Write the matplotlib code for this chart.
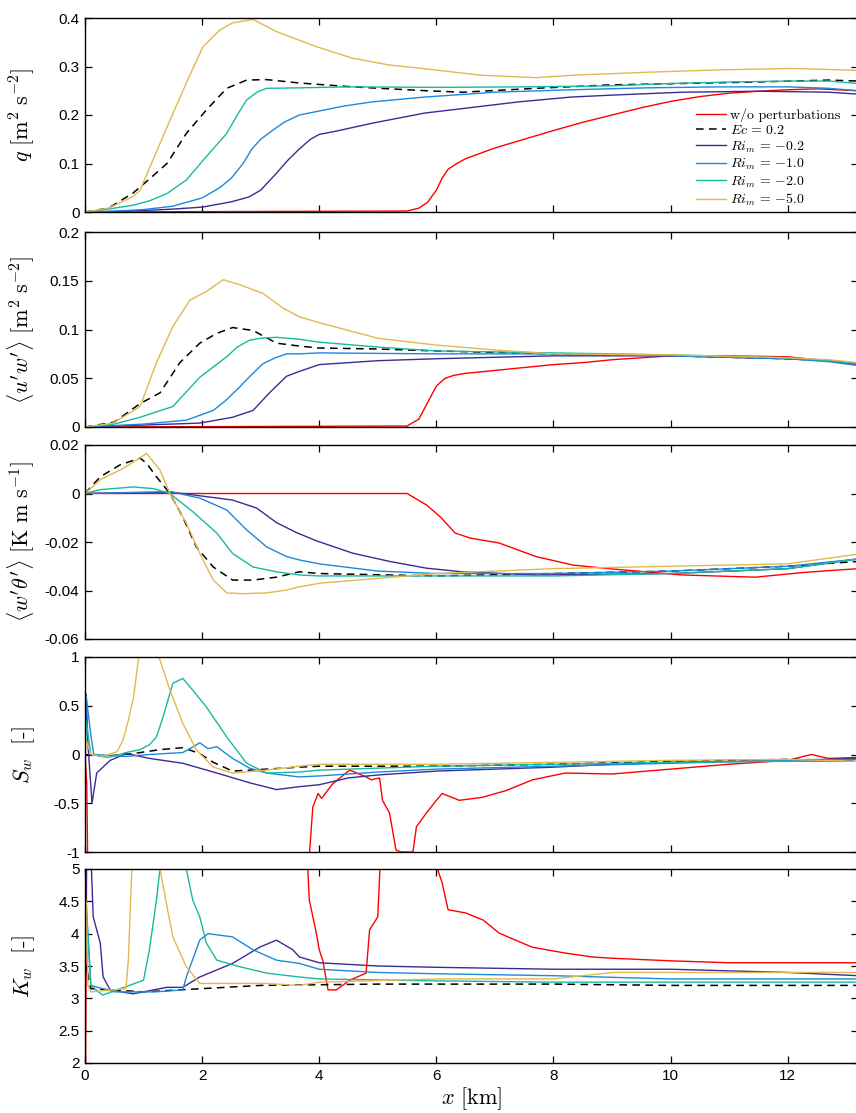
import matplotlib
matplotlib.use("Agg")
import matplotlib.pyplot as plt
from matplotlib.ticker import FuncFormatter

plt.rcParams['mathtext.fontset'] = 'cm'
plt.rcParams['font.family'] = ['Liberation Sans', 'DejaVu Sans']
plt.rcParams['axes.unicode_minus'] = False

# ---------------- data ----------------
series_labels = ['w/o perturbations', r'$Ec\,=\,0.2$', r'$Ri_m\,=\,{-0.2}$',
                 r'$Ri_m\,=\,{-1.0}$', r'$Ri_m\,=\,{-2.0}$', r'$Ri_m\,=\,{-5.0}$']

# Panel 1: q
q_red_x = [0, 5.5, 5.7, 5.85, 6.0, 6.1, 6.2, 6.35, 6.5, 7.0, 7.5, 8.0, 8.5, 9.0, 9.5, 10.0, 10.5, 11.0, 11.5, 12.0, 12.5, 13.2]
q_red = [0, 0.002, 0.008, 0.02, 0.045, 0.07, 0.088, 0.1, 0.11, 0.132, 0.15, 0.168, 0.185, 0.2, 0.215, 0.228, 0.238, 0.245, 0.249, 0.252, 0.254, 0.25]
q_blk_x = [0, 0.4, 0.82, 1.1, 1.4, 1.73, 2.07, 2.42, 2.76, 3.1, 3.66, 4.57, 5.83, 6.45, 7.7, 8.95, 10.2, 11.45, 12.7, 13.2]
q_blk = [0, 0.008, 0.039, 0.068, 0.1, 0.162, 0.21, 0.255, 0.272, 0.273, 0.266, 0.258, 0.25, 0.247, 0.255, 0.262, 0.265, 0.268, 0.272, 0.27]
q_pur_x = [0, 0.5, 1.0, 1.5, 2.0, 2.5, 2.8, 3.0, 3.27, 3.45, 3.66, 3.85, 4.0, 4.3, 4.9, 5.8, 6.5, 7.4, 8.3, 9.0, 10.2, 11.5, 12.7, 13.2]
q_pur = [0, 0.001, 0.003, 0.006, 0.01, 0.021, 0.031, 0.045, 0.08, 0.105, 0.13, 0.15, 0.16, 0.167, 0.183, 0.204, 0.214, 0.227, 0.237, 0.241, 0.247, 0.249, 0.247, 0.243]
q_blu_x = [0, 0.5, 1.0, 1.5, 2.0, 2.3, 2.5, 2.7, 2.85, 3.0, 3.2, 3.4, 3.66, 3.95, 4.4, 4.9, 5.8, 7.0, 8.3, 9.6, 10.8, 12.0, 12.7, 13.2]
q_blu = [0, 0.002, 0.005, 0.012, 0.029, 0.05, 0.07, 0.1, 0.13, 0.15, 0.168, 0.185, 0.2, 0.207, 0.218, 0.227, 0.237, 0.247, 0.252, 0.256, 0.258, 0.258, 0.255, 0.25]
q_tea_x = [0, 0.4, 0.82, 1.1, 1.4, 1.73, 2.07, 2.42, 2.6, 2.76, 2.95, 3.1, 3.66, 4.5, 6.0, 7.5, 8.95, 10.0, 11.0, 12.0, 12.7, 13.2]
q_tea = [0, 0.006, 0.014, 0.023, 0.038, 0.066, 0.114, 0.162, 0.2, 0.231, 0.248, 0.255, 0.256, 0.258, 0.257, 0.258, 0.26, 0.265, 0.268, 0.27, 0.27, 0.265]
q_gol_x = [0, 0.4, 0.82, 0.94, 1.11, 1.4, 1.73, 2.01, 2.3, 2.52, 2.87, 3.27, 3.95, 4.57, 5.2, 5.83, 6.76, 7.7, 8.32, 9.57, 10.8, 12.07, 13.2]
q_gol = [0, 0.008, 0.032, 0.045, 0.093, 0.175, 0.266, 0.34, 0.375, 0.39, 0.397, 0.372, 0.341, 0.317, 0.303, 0.295, 0.282, 0.277, 0.282, 0.288, 0.293, 0.296, 0.292]

# Panel 2: <u'w'>
uw_red_x = [0, 5.5, 5.7, 5.85, 6.0, 6.15, 6.3, 6.5, 7.0, 7.5, 8.0, 8.5, 9.0, 9.5, 10.0, 10.5, 11.0, 12.0, 12.5, 13.2]
uw_red = [0, 0.001, 0.008, 0.025, 0.042, 0.05, 0.053, 0.055, 0.058, 0.061, 0.064, 0.066, 0.069, 0.071, 0.073, 0.073, 0.073, 0.072, 0.069, 0.065]
uw_blk_x = [0, 0.5, 0.94, 1.28, 1.62, 1.96, 2.25, 2.52, 2.87, 3.27, 3.66, 4.0, 5.0, 6.0, 8.0, 10.0, 12.0, 12.7, 13.2]
uw_blk = [0, 0.005, 0.024, 0.035, 0.066, 0.086, 0.096, 0.102, 0.099, 0.086, 0.083, 0.081, 0.08, 0.078, 0.075, 0.073, 0.07, 0.068, 0.065]
uw_pur_x = [0, 1.0, 1.96, 2.52, 2.87, 3.15, 3.44, 3.66, 4.0, 5.0, 6.0, 8.0, 10.0, 12.0, 12.7, 13.2]
uw_pur = [0, 0.002, 0.004, 0.01, 0.017, 0.035, 0.052, 0.057, 0.064, 0.068, 0.07, 0.073, 0.073, 0.07, 0.068, 0.064]
uw_blu_x = [0, 1.0, 1.73, 2.19, 2.4, 2.64, 2.85, 3.04, 3.25, 3.44, 3.66, 4.0, 6.0, 8.0, 10.0, 12.0, 12.7, 13.2]
uw_blu = [0, 0.003, 0.007, 0.017, 0.027, 0.041, 0.054, 0.065, 0.071, 0.075, 0.075, 0.076, 0.075, 0.075, 0.073, 0.07, 0.067, 0.063]
uw_tea_x = [0, 0.5, 0.94, 1.5, 1.96, 2.2, 2.42, 2.6, 2.81, 3.0, 3.27, 3.66, 4.0, 5.0, 6.0, 8.0, 10.0, 12.0, 12.7, 13.2]
uw_tea = [0, 0.003, 0.01, 0.021, 0.051, 0.062, 0.072, 0.082, 0.089, 0.091, 0.092, 0.09, 0.087, 0.082, 0.078, 0.076, 0.074, 0.071, 0.068, 0.065]
uw_gol_x = [0, 0.48, 0.94, 1.22, 1.5, 1.79, 2.07, 2.36, 2.64, 3.04, 3.38, 3.66, 4.0, 5.0, 6.0, 7.0, 8.0, 10.0, 12.0, 12.7, 13.2]
uw_gol = [0, 0.004, 0.021, 0.066, 0.103, 0.13, 0.139, 0.151, 0.146, 0.137, 0.122, 0.113, 0.107, 0.091, 0.084, 0.079, 0.075, 0.074, 0.071, 0.069, 0.066]

# Panel 3: <w'theta'>
wt_red_x = [0, 5.5, 5.83, 6.07, 6.32, 6.58, 7.07, 7.7, 8.33, 8.95, 10.2, 11.45, 12.3, 13.2]
wt_red = [0, 0, -0.0047, -0.0097, -0.0163, -0.0184, -0.0204, -0.026, -0.0295, -0.031, -0.0336, -0.0345, -0.0325, -0.031]
wt_blk_x = [0, 0.26, 0.6, 0.94, 1.05, 1.22, 1.45, 1.67, 1.9, 2.19, 2.52, 2.87, 3.27, 3.66, 4.0, 6.0, 8.0, 10.0, 12.0, 13.2]
wt_blk = [0, 0.0069, 0.0118, 0.0146, 0.0125, 0.0069, 0, -0.0097, -0.022, -0.0303, -0.0357, -0.0357, -0.0345, -0.0323, -0.033, -0.034, -0.033, -0.032, -0.03, -0.028]
wt_pur_x = [0, 1.5, 2.52, 2.93, 3.27, 3.6, 3.95, 4.57, 5.2, 5.83, 6.45, 7.7, 10.0, 12.0, 13.2]
wt_pur = [0, 0.0005, -0.0027, -0.006, -0.012, -0.016, -0.0195, -0.0246, -0.028, -0.0308, -0.0323, -0.0336, -0.033, -0.031, -0.027]
wt_blu_x = [0, 1.45, 1.96, 2.42, 2.76, 3.1, 3.44, 3.66, 4.0, 5.0, 6.0, 8.0, 10.0, 12.0, 13.2]
wt_blu = [0, 0.0008, -0.0019, -0.0068, -0.015, -0.022, -0.026, -0.0274, -0.029, -0.032, -0.033, -0.033, -0.032, -0.03, -0.027]
wt_tea_x = [0, 0.26, 0.82, 1.17, 1.45, 1.84, 2.25, 2.52, 2.87, 3.27, 3.66, 4.0, 6.0, 8.0, 10.0, 12.0, 13.2]
wt_tea = [0, 0.0016, 0.0027, 0.002, 0, -0.0075, -0.0163, -0.0247, -0.0303, -0.0323, -0.0336, -0.034, -0.034, -0.034, -0.033, -0.031, -0.027]
wt_gol_x = [0, 0.26, 0.65, 0.88, 1.05, 1.28, 1.45, 1.73, 1.96, 2.19, 2.42, 2.7, 3.1, 3.44, 3.66, 4.0, 5.0, 6.0, 7.0, 8.0, 10.0, 12.0, 13.2]
wt_gol = [0, 0.0057, 0.0103, 0.0138, 0.0165, 0.0097, 0, -0.0122, -0.0247, -0.0357, -0.041, -0.0413, -0.041, -0.0398, -0.0385, -0.037, -0.035, -0.033, -0.032, -0.031, -0.03, -0.029, -0.025]

# Panel 4: S_w
sw_red_x = [0, 0.03, 0.05, 0.06, 3.8, 3.89, 3.98, 4.04, 4.23, 4.52, 4.8, 4.89, 5.03, 5.08, 5.2, 5.31, 5.4, 5.6, 5.66, 5.83, 6.0, 6.1, 6.39, 6.78, 7.19, 7.64, 8.2, 9.0, 10.0, 11.0, 12.0, 12.4, 12.7, 13.2]
sw_red = [0, -0.3, -1.3, -1.3, -1.3, -0.54, -0.4, -0.45, -0.3, -0.16, -0.23, -0.26, -0.24, -0.47, -0.6, -0.98, -1.0, -1.0, -0.74, -0.6, -0.47, -0.4, -0.47, -0.44, -0.37, -0.26, -0.19, -0.2, -0.15, -0.1, -0.06, 0.0, -0.04, -0.03]
sw_blk_x = [0, 0.3, 0.83, 1.28, 1.67, 1.96, 2.19, 2.52, 3.1, 3.66, 4.0, 6.0, 8.0, 10.0, 12.0, 13.2]
sw_blk = [0, -0.02, 0.01, 0.05, 0.07, 0.01, -0.08, -0.17, -0.15, -0.13, -0.12, -0.12, -0.1, -0.07, -0.05, -0.06]
sw_pur_x = [0, 0.02, 0.05, 0.12, 0.2, 0.43, 0.71, 1.1, 1.67, 2.25, 2.81, 3.27, 3.66, 4.0, 4.5, 5.0, 6.0, 7.0, 8.0, 9.0, 10.0, 12.0, 13.2]
sw_pur = [0, 0.62, 0.1, -0.5, -0.19, -0.06, 0.01, -0.04, -0.09, -0.19, -0.29, -0.36, -0.33, -0.31, -0.24, -0.21, -0.17, -0.15, -0.13, -0.1, -0.08, -0.06, -0.04]
sw_blu_x = [0, 0.02, 0.1, 0.15, 0.7, 1.1, 1.67, 1.85, 1.96, 2.1, 2.25, 2.52, 2.81, 3.1, 3.66, 4.0, 5.0, 6.0, 8.0, 10.0, 12.0, 13.2]
sw_blu = [0, 0.6, 0.2, 0.0, -0.02, 0.0, 0.02, 0.08, 0.12, 0.06, 0.08, -0.04, -0.14, -0.19, -0.23, -0.22, -0.18, -0.15, -0.12, -0.09, -0.06, -0.05]
sw_tea_x = [0, 0.02, 0.1, 0.4, 0.7, 0.94, 1.1, 1.22, 1.33, 1.5, 1.67, 1.84, 2.07, 2.42, 2.76, 3.1, 3.66, 4.0, 5.0, 6.0, 8.0, 10.0, 12.0, 13.2]
sw_tea = [0, 0.35, 0.0, -0.03, 0.02, 0.05, 0.1, 0.18, 0.38, 0.73, 0.78, 0.66, 0.49, 0.18, -0.09, -0.19, -0.18, -0.16, -0.14, -0.12, -0.1, -0.08, -0.07, -0.07]
sw_gol_x = [0, 0.02, 0.1, 0.3, 0.55, 0.65, 0.74, 0.83, 0.91, 1.05, 1.22, 1.28, 1.45, 1.67, 1.9, 2.19, 2.52, 3.1, 3.66, 4.0, 6.0, 8.0, 10.0, 12.0, 13.2]
sw_gol = [0, 0.15, 0.0, -0.02, 0.03, 0.15, 0.35, 0.59, 0.97, 1.3, 1.05, 0.97, 0.66, 0.32, 0.05, -0.13, -0.19, -0.16, -0.12, -0.1, -0.1, -0.08, -0.06, -0.05, -0.07]

# Panel 5: K_w
kw_red_x = [0, 0.01, 0.03, 0.05, 3.75, 3.83, 3.95, 4.0, 4.06, 4.15, 4.29, 4.52, 4.8, 4.86, 5.0, 5.06, 5.5, 6.02, 6.1, 6.2, 6.5, 6.8, 7.07, 7.35, 7.64, 8.2, 8.66, 9.0, 10.0, 11.0, 12.0, 13.2]
kw_red = [1.5, 2.0, 5.5, 6.0, 6.0, 4.52, 4.01, 3.75, 3.59, 3.13, 3.13, 3.28, 3.39, 4.06, 4.26, 5.5, 6.0, 5.0, 4.78, 4.37, 4.32, 4.21, 4.01, 3.9, 3.79, 3.7, 3.64, 3.62, 3.58, 3.55, 3.55, 3.55]
kw_blk_x = [0, 0.02, 0.1, 1.0, 2.0, 3.0, 5.0, 8.0, 10.0, 12.0, 13.2]
kw_blk = [3.2, 3.5, 3.15, 3.1, 3.15, 3.2, 3.22, 3.22, 3.2, 3.2, 3.2]
kw_pur_x = [0, 0.03, 0.09, 0.14, 0.26, 0.31, 0.43, 0.82, 1.4, 1.67, 1.96, 2.52, 2.98, 3.27, 3.55, 3.66, 4.0, 5.0, 6.0, 8.0, 10.0, 12.0, 13.2]
kw_pur = [3.2, 5.5, 5.5, 4.26, 3.86, 3.33, 3.13, 3.07, 3.17, 3.17, 3.33, 3.54, 3.79, 3.9, 3.75, 3.64, 3.55, 3.5, 3.48, 3.45, 3.45, 3.4, 3.35]
kw_blu_x = [0, 0.02, 0.1, 0.5, 1.2, 1.67, 1.73, 1.96, 2.1, 2.52, 2.87, 3.27, 3.66, 4.0, 5.0, 6.0, 8.0, 10.0, 12.0, 13.2]
kw_blu = [3.2, 4.5, 3.2, 3.1, 3.1, 3.13, 3.33, 3.9, 4.0, 3.95, 3.75, 3.59, 3.54, 3.45, 3.4, 3.38, 3.35, 3.3, 3.3, 3.3]
kw_tea_x = [0, 0.02, 0.1, 0.3, 1.0, 1.1, 1.22, 1.28, 1.5, 1.73, 1.84, 1.96, 2.07, 2.25, 2.64, 3.1, 3.66, 4.0, 6.0, 8.0, 10.0, 12.0, 13.2]
kw_tea = [3.2, 4.4, 3.2, 3.05, 3.28, 3.75, 4.52, 5.0, 5.5, 5.0, 4.52, 4.26, 3.86, 3.59, 3.49, 3.39, 3.33, 3.3, 3.27, 3.25, 3.25, 3.25, 3.25]
kw_gol_x = [0, 0.02, 0.05, 0.1, 0.7, 0.74, 0.8, 1.0, 1.28, 1.4, 1.5, 1.73, 1.96, 2.52, 3.1, 3.66, 4.0, 6.0, 8.0, 9.0, 10.0, 12.0, 13.2]
kw_gol = [3.2, 4.5, 3.2, 3.1, 3.15, 3.59, 5.0, 6.0, 5.0, 4.42, 3.95, 3.49, 3.23, 3.23, 3.23, 3.2, 3.25, 3.3, 3.3, 3.4, 3.4, 3.4, 3.4]

x_ticks = [0, 2, 4, 6, 8, 10, 12]
q_ticks = [0, 0.1, 0.2, 0.3, 0.4]
uw_ticks = [0, 0.05, 0.1, 0.15, 0.2]
wt_ticks = [-0.06, -0.04, -0.02, 0, 0.02]
sw_ticks = [-1, -0.5, 0, 0.5, 1]
kw_ticks = [2, 2.5, 3, 3.5, 4, 4.5, 5]

# ---------------- style ----------------
colors = ['#ff0000', '#000000', '#3b2c93', '#1a89de', '#17ba9f', '#e3b84f']
styles = ['-', '--', '-', '-', '-', '-']

W, H = 856, 1113
fig = plt.figure(figsize=(W / 100, H / 100), dpi=100)

left_px, right_px = 85, 858
panel_px = [(18, 212), (232, 427), (445, 639), (657, 852), (869, 1063)]

panels = [
    ([(q_red_x, q_red), (q_blk_x, q_blk), (q_pur_x, q_pur), (q_blu_x, q_blu), (q_tea_x, q_tea), (q_gol_x, q_gol)],
     (0, 0.4), q_ticks, r'$q\ [\mathrm{m}^2\ \mathrm{s}^{-2}]$'),
    ([(uw_red_x, uw_red), (uw_blk_x, uw_blk), (uw_pur_x, uw_pur), (uw_blu_x, uw_blu), (uw_tea_x, uw_tea), (uw_gol_x, uw_gol)],
     (0, 0.2), uw_ticks, r"$\langle u'w'\rangle\ [\mathrm{m}^2\ \mathrm{s}^{-2}]$"),
    ([(wt_red_x, wt_red), (wt_blk_x, wt_blk), (wt_pur_x, wt_pur), (wt_blu_x, wt_blu), (wt_tea_x, wt_tea), (wt_gol_x, wt_gol)],
     (-0.06, 0.02), wt_ticks, r"$\langle w'\theta'\rangle\ [\mathrm{K\ m\ s}^{-1}]$"),
    ([(sw_red_x, sw_red), (sw_blk_x, sw_blk), (sw_pur_x, sw_pur), (sw_blu_x, sw_blu), (sw_tea_x, sw_tea), (sw_gol_x, sw_gol)],
     (-1, 1), sw_ticks, r'$S_w\ \ [$-$]$'),
    ([(kw_red_x, kw_red), (kw_blk_x, kw_blk), (kw_pur_x, kw_pur), (kw_blu_x, kw_blu), (kw_tea_x, kw_tea), (kw_gol_x, kw_gol)],
     (2, 5), kw_ticks, r'$K_w\ \ [$-$]$'),
]

fmt = FuncFormatter(lambda v, p: ('%g' % round(v, 4)))
axes = []
for i, (data, ylim, yt, ylab) in enumerate(panels):
    top, bot = panel_px[i]
    ax = fig.add_axes([left_px / W, 1 - bot / H, (right_px - left_px) / W, (bot - top) / H])
    axes.append(ax)
    for k, (xs, ys) in enumerate(data):
        if styles[k] == '--':
            ax.plot(xs, ys, color=colors[k], lw=1.1, dashes=(5, 3.5), label=series_labels[k])
        else:
            ax.plot(xs, ys, color=colors[k], lw=1.0, label=series_labels[k])
    ax.set_xlim(0, 13.2)
    ax.set_ylim(*ylim)
    ax.set_xticks(x_ticks)
    ax.set_yticks(yt)
    ax.yaxis.set_major_formatter(fmt)
    ax.xaxis.set_major_formatter(fmt)
    ax.tick_params(direction='in', top=True, right=True, length=5, width=0.9,
                   labelsize=11, pad=4)
    if i < 4:
        ax.tick_params(labelbottom=False)
    for s in ax.spines.values():
        s.set_linewidth(1.0)
    ax.set_ylabel(ylab, fontsize=16, family='cmr10', labelpad=4)
    ax.yaxis.set_label_coords(-0.062, 0.5)

axes[-1].set_xlabel(r'$x\ [\mathrm{km}]$', fontsize=16, labelpad=2)

leg = axes[0].legend(loc='upper left', bbox_to_anchor=(0.79, 0.535), frameon=False,
                     prop={'family': 'cmr10', 'size': 10}, handlelength=2.2,
                     handletextpad=0.3, labelspacing=0.16, borderpad=0, borderaxespad=0)

fig.savefig('out.png', dpi=100)
